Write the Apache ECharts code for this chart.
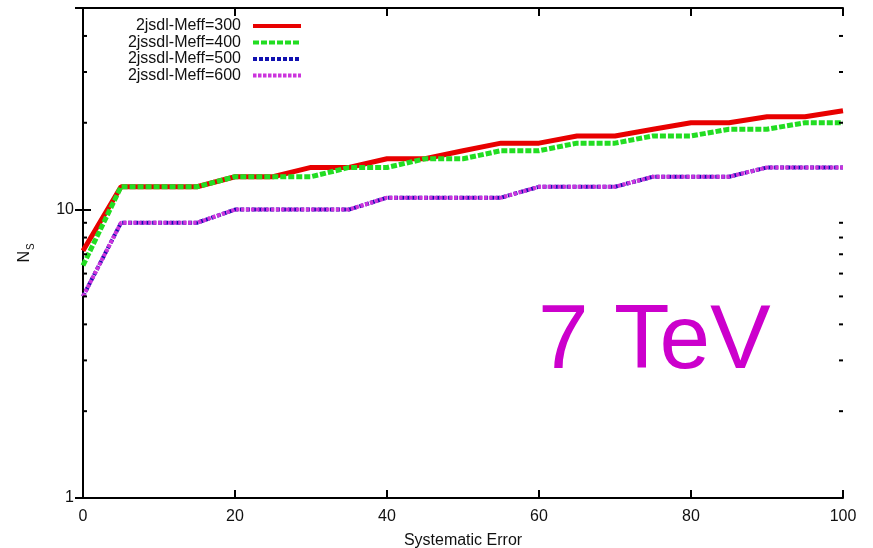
<!DOCTYPE html>
<html>
<head>
<meta charset="utf-8">
<script src="https://cdn.jsdelivr.net/npm/echarts@6/dist/echarts.min.js"></script>
<style>
html,body{margin:0;padding:0;background:#fff;}
#chart{width:873px;height:548px;}
</style>
</head>
<body>
<div id="chart"></div>
<script>
// ---- data ----
var xValues = [0,5,10,15,20,25,30,35,40,45,50,55,60,65,70,75,80,85,90,95,100];
var meff300 = [7.2,12,12,12,13,13,14,14,15,15,16,17,17,18,18,19,20,20,21,21,22];
var meff400 = [6.4,12,12,12,13,13,13,14,14,15,15,16,16,17,17,18,18,19,19,20,20];
var meff500 = [5,9,9,9,10,10,10,10,11,11,11,11,12,12,12,13,13,13,14,14,14];
var meff600 = [5,9,9,9,10,10,10,10,11,11,11,11,12,12,12,13,13,13,14,14,14];
var seriesNames = ['2jsdl-Meff=300','2jssdl-Meff=400','2jssdl-Meff=500','2jssdl-Meff=600'];
var yLabelValues = [1,10];
var yMinorTicks = [2,3,4,5,6,7,8,9,20,30,40];

function pairs(ys){ return xValues.map(function(x,i){ return [x, ys[i]]; }); }

var FONT = '"Liberation Sans", Arial, sans-serif';
var chart = echarts.init(document.getElementById('chart'), null, {renderer:'canvas'});

var axisLine = {show:true, lineStyle:{color:'#000', width:2}};

var option = {
  animation:false,
  backgroundColor:'#fff',
  grid:{left:83, right:30, top:8, bottom:50, outerBoundsMode:'none', containLabel:false},
  legend:{
    data:seriesNames,
    orient:'vertical',
    right:570, top:18,
    align:'right',
    itemWidth:48, itemHeight:16, itemGap:0.5,
    padding:0,
    itemStyle:{opacity:0},
    lineStyle:{width:4},
    textStyle:{fontFamily:FONT, fontSize:16, color:'#111', lineHeight:16, padding:[0,7,0,0]}
  },
  xAxis:[{
    type:'value', min:0, max:100, interval:20, position:'bottom',
    axisLine:axisLine,
    axisTick:{show:true, inside:true, length:8, lineStyle:{color:'#000', width:2}},
    axisLabel:{fontFamily:FONT, fontSize:16, color:'#111', margin:11},
    splitLine:{show:false},
    name:'Systematic Error', nameLocation:'middle', nameGap:35,
    nameTextStyle:{fontFamily:FONT, fontSize:16, color:'#111'}
  },{
    type:'value', min:0, max:100, interval:20, position:'top',
    axisLine:axisLine,
    axisTick:{show:true, inside:true, length:8, lineStyle:{color:'#000', width:2}},
    axisLabel:{show:false}, splitLine:{show:false}
  }],
  yAxis:[{
    type:'log', logBase:10, min:1, max:50, position:'left',
    axisLine:axisLine,
    axisTick:{show:true, inside:true, length:8, lineStyle:{color:'#000', width:2}},
    axisLabel:{fontFamily:FONT, fontSize:16, color:'#111', margin:9, showMaxLabel:false,
      formatter:function(v){ return yLabelValues.indexOf(Math.round(v))>=0 && Math.abs(v-Math.round(v))<1e-6 ? String(Math.round(v)) : ''; }},
    splitLine:{show:false},
    name:'{n|N}{s|S}', nameLocation:'middle', nameGap:50, nameRotate:90,
    nameTextStyle:{fontFamily:FONT, color:'#111', rich:{
      n:{fontFamily:FONT, fontSize:16, color:'#111'},
      s:{fontFamily:FONT, fontSize:10, color:'#111', verticalAlign:'bottom', padding:[0,0,-3,1]}
    }}
  },{
    type:'log', logBase:10, min:1, max:50, position:'right',
    axisLine:axisLine,
    axisTick:{show:true, inside:true, length:8, lineStyle:{color:'#000', width:2}},
    axisLabel:{show:false}, splitLine:{show:false}
  }],
  graphic:[{
    type:'text', left:538, top:297,
    style:{text:'7 TeV', fontFamily:FONT, fontSize:91, fill:'#cc00cc'}
  }],
  series:[
    {name:seriesNames[0], type:'line', data:pairs(meff300), symbol:'none',
     lineStyle:{color:'#e80000', width:5, type:'solid'}, itemStyle:{color:'#e80000'}},
    {name:seriesNames[1], type:'line', data:pairs(meff400), symbol:'none',
     lineStyle:{color:'#22dd22', width:5, type:[6,2]}, itemStyle:{color:'#22dd22'}},
    {name:seriesNames[2], type:'line', data:pairs(meff500), symbol:'none',
     lineStyle:{color:'#1010b0', width:4, type:[4,2]}, itemStyle:{color:'#1010b0'}},
    {name:seriesNames[3], type:'line', data:pairs(meff600), symbol:'none',
     lineStyle:{color:'#cc33dd', width:4, type:[3.5,1.5]}, itemStyle:{color:'#cc33dd'}},
    {name:'minorTicks', type:'custom', silent:true, z:10, data:yMinorTicks.map(function(v){return [0,v];}),
     renderItem:function(params, api){
       var v = api.value(1);
       var l = api.coord([0, v]);
       var r = api.coord([100, v]);
       return {type:'group', children:[
         {type:'line', shape:{x1:l[0], y1:l[1], x2:l[0]+4, y2:l[1]}, style:{stroke:'#000', lineWidth:2}},
         {type:'line', shape:{x1:r[0], y1:r[1], x2:r[0]-4, y2:r[1]}, style:{stroke:'#000', lineWidth:2}}
       ]};
     }}
  ]
};
chart.setOption(option);
</script>
</body>
</html>
